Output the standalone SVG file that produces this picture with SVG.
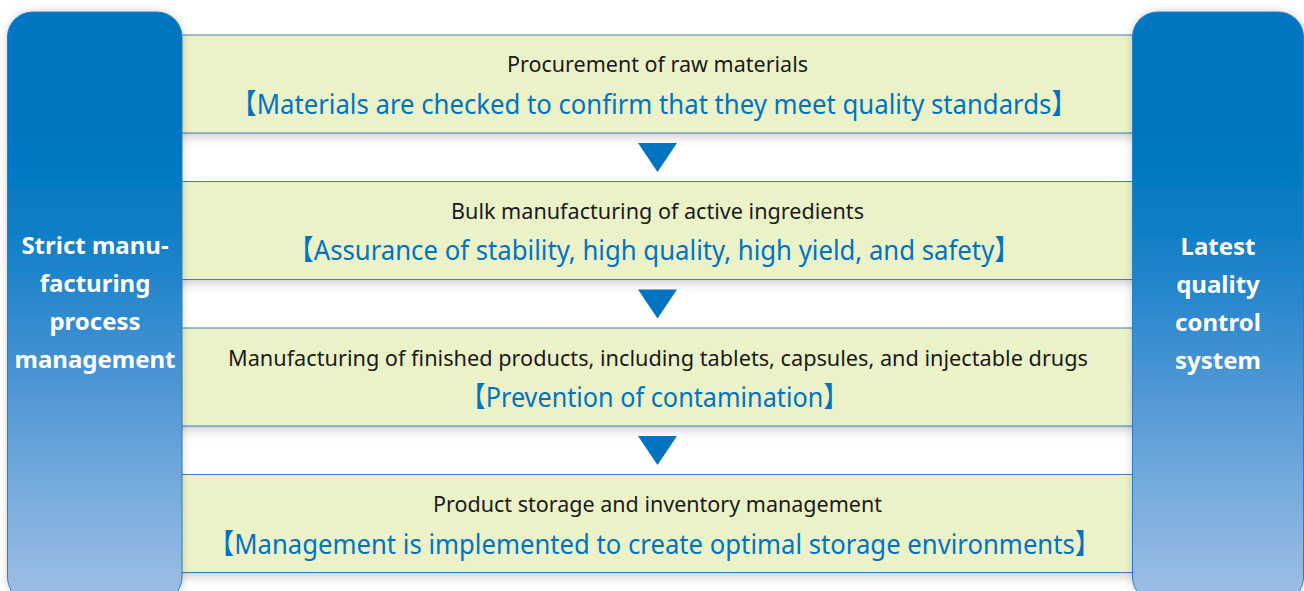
<svg xmlns="http://www.w3.org/2000/svg" width="1304" height="591" viewBox="0 0 1304 591">
<defs>
<linearGradient id="panelGrad" gradientUnits="userSpaceOnUse" x1="0" y1="12" x2="0" y2="591">
<stop offset="0" stop-color="#0074C1"/>
<stop offset="0.2" stop-color="#0075C2"/>
<stop offset="0.36" stop-color="#0A7DC6"/>
<stop offset="0.52" stop-color="#2F8ACE"/>
<stop offset="0.67" stop-color="#5399D5"/>
<stop offset="0.84" stop-color="#7AADDE"/>
<stop offset="1" stop-color="#9CBDE4"/>
</linearGradient>
<linearGradient id="shadowGrad" x1="0" y1="0" x2="0" y2="1">
<stop offset="0" stop-color="#cfcfcf" stop-opacity="0.9"/>
<stop offset="1" stop-color="#ffffff" stop-opacity="0"/>
</linearGradient>
<filter id="panelShadow" x="-20%" y="-10%" width="140%" height="120%">
<feDropShadow dx="0" dy="0" stdDeviation="4" flood-color="#000" flood-opacity="0.18"/>
</filter>
</defs>
<style>
.band{fill:#ECF2C8;}
.edge{stroke:#3A7EBF;stroke-width:1.2;}
.shadow{fill:url(#shadowGrad);}
.panel{fill:url(#panelGrad);stroke:#2A7CC3;stroke-width:1;}
.tri{fill:#0074C1;}
.t1{font-family:"Noto Sans","Open Sans",sans-serif;font-size:22px;fill:#1a1a1a;text-anchor:middle;}
.t2{font-family:"Noto Sans","Noto Sans CJK JP",sans-serif;font-size:28px;fill:#0074C1;text-anchor:middle;}
.pt{font-family:"Noto Sans","Open Sans",sans-serif;font-size:24px;font-weight:bold;fill:#ffffff;text-anchor:middle;}
</style>

<g id="shadows">
<rect class="shadow" x="182" y="133" width="950" height="16"/>
<rect class="shadow" x="182" y="279.5" width="950" height="16"/>
<rect class="shadow" x="182" y="426" width="950" height="16"/>
<rect class="shadow" x="182" y="572.5" width="950" height="16"/>
</g>

<g id="step1">
<rect class="band" x="182" y="35" width="950" height="98"/>
<line class="edge" x1="182" y1="35" x2="1132" y2="35"/>
<line class="edge" x1="182" y1="133" x2="1132" y2="133"/>
<text class="t1" x="657.5" y="72" textLength="301" lengthAdjust="spacingAndGlyphs">Procurement of raw materials</text>
<text class="t2" x="654" y="113.5" textLength="846" lengthAdjust="spacingAndGlyphs">【Materials are checked to confirm that they meet quality standards】</text>
</g>

<g id="step2">
<rect class="band" x="182" y="181.5" width="950" height="98"/>
<line class="edge" x1="182" y1="181.5" x2="1132" y2="181.5"/>
<line class="edge" x1="182" y1="279.5" x2="1132" y2="279.5"/>
<text class="t1" x="657.5" y="218.5" textLength="413" lengthAdjust="spacingAndGlyphs">Bulk manufacturing of active ingredients</text>
<text class="t2" x="654" y="260" textLength="732" lengthAdjust="spacingAndGlyphs">【Assurance of stability, high quality, high yield, and safety】</text>
</g>

<g id="step3">
<rect class="band" x="182" y="328" width="950" height="98"/>
<line class="edge" x1="182" y1="328" x2="1132" y2="328"/>
<line class="edge" x1="182" y1="426" x2="1132" y2="426"/>
<text class="t1" x="658" y="365.5" textLength="860" lengthAdjust="spacingAndGlyphs">Manufacturing of finished products, including tablets, capsules, and injectable drugs</text>
<text class="t2" x="654.5" y="407" textLength="388" lengthAdjust="spacingAndGlyphs">【Prevention of contamination】</text>
</g>

<g id="step4">
<rect class="band" x="182" y="474.5" width="950" height="98"/>
<line class="edge" x1="182" y1="474.5" x2="1132" y2="474.5"/>
<line class="edge" x1="182" y1="572.5" x2="1132" y2="572.5"/>
<text class="t1" x="657.5" y="512" textLength="449" lengthAdjust="spacingAndGlyphs">Product storage and inventory management</text>
<text class="t2" x="654.5" y="553.5" textLength="892" lengthAdjust="spacingAndGlyphs">【Management is implemented to create optimal storage environments】</text>
</g>

<g id="connectors">
<polygon class="tri" points="638,143 677,143 657.5,172"/>
<polygon class="tri" points="638,289.5 677,289.5 657.5,318.5"/>
<polygon class="tri" points="638,436 677,436 657.5,465"/>
</g>

<g id="left-panel">
<rect class="panel" filter="url(#panelShadow)" x="7.5" y="12" width="174.5" height="590" rx="25" ry="25"/>
<text class="pt" x="95" y="254">Strict manu-</text>
<text class="pt" x="95" y="292">facturing</text>
<text class="pt" x="95" y="330">process</text>
<text class="pt" x="95" y="368">management</text>
</g>

<g id="right-panel">
<rect class="panel" filter="url(#panelShadow)" x="1132.5" y="12" width="171" height="590" rx="25" ry="25"/>
<text class="pt" x="1218" y="255">Latest</text>
<text class="pt" x="1218" y="293">quality</text>
<text class="pt" x="1218" y="331">control</text>
<text class="pt" x="1218" y="369">system</text>
</g>
</svg>
